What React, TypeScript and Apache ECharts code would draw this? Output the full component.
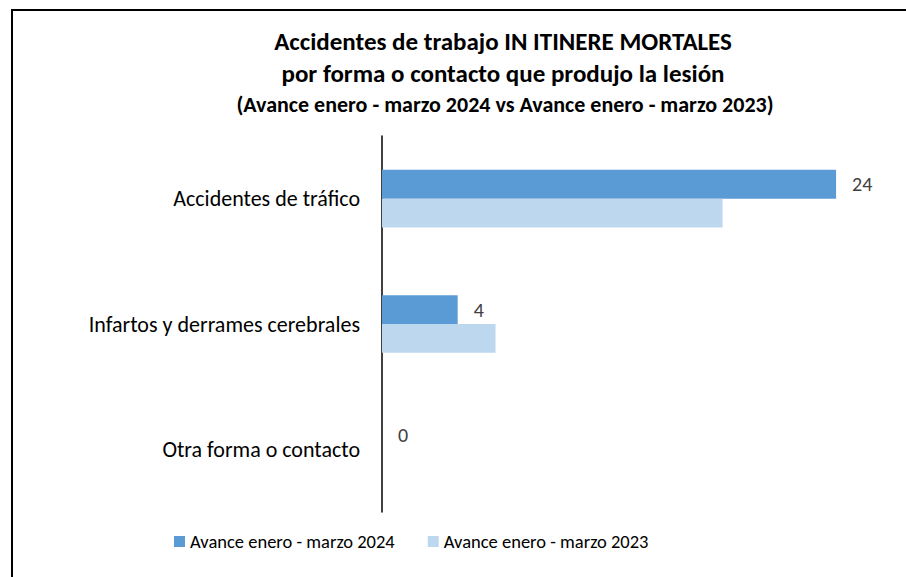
import React, { useEffect, useRef } from "react";
import * as echarts from "echarts";

const categories = [
  "Accidentes de tráfico",
  "Infartos y derrames cerebrales",
  "Otra forma o contacto",
];
const series2024 = [24, 4, 0];
const series2023 = [18, 6, 0];
const seriesNames = ["Avance enero - marzo 2024", "Avance enero - marzo 2023"];
const titleLines = [
  "Accidentes de trabajo IN ITINERE MORTALES",
  "por forma o contacto que produjo la lesión",
  "(Avance enero - marzo 2024 vs Avance enero - marzo 2023)",
];

export default function App() {
  const ref = useRef<HTMLDivElement>(null);
  useEffect(() => {
    document.body.style.margin = "0";
    const chart = echarts.init(ref.current!, null, { renderer: "svg" });
    const font = "Carlito, 'Liberation Sans', sans-serif";
    chart.setOption({
      animation: false,
      backgroundColor: "#ffffff",
      graphic: [
        {
          type: "rect",
          shape: { x: 12, y: 10, width: 1000, height: 700 },
          style: { fill: "none", stroke: "#000", lineWidth: 2 },
          silent: true,
        },
        {
          type: "text",
          x: 503,
          y: 41,
          style: {
            text: titleLines[0],
            font: `bold 25px ${font}`,
            fill: "#000",
            align: "center",
            verticalAlign: "middle",
          },
        },
        {
          type: "text",
          x: 503,
          y: 73,
          style: {
            text: titleLines[1],
            font: `bold 25px ${font}`,
            fill: "#000",
            align: "center",
            verticalAlign: "middle",
          },
        },
        {
          type: "text",
          x: 505,
          y: 104,
          style: {
            text: titleLines[2],
            font: `bold 22px ${font}`,
            fill: "#000",
            align: "center",
            verticalAlign: "middle",
          },
        },
      ],
      legend: {
        bottom: 21,
        left: 169,
        itemWidth: 11,
        itemHeight: 11,
        itemGap: 33,
        icon: "rect",
        textStyle: { fontFamily: font, fontSize: 18.5, color: "#000", padding: [0, 0, 0, 0] },
        data: seriesNames,
      },
      grid: { left: 382, right: 51, top: 136, bottom: 65, containLabel: false },
      xAxis: {
        type: "value",
        min: 0,
        max: 25,
        show: false,
      },
      yAxis: {
        type: "category",
        data: categories,
        inverse: true,
        axisLine: { show: true, lineStyle: { color: "#000", width: 1.5 } },
        axisTick: { show: false },
        axisLabel: { fontFamily: font, fontSize: 22, color: "#000", margin: 22 },
      },
      series: [
        {
          name: seriesNames[0],
          type: "bar",
          data: series2024,
          barGap: "0%",
          barCategoryGap: "54%",
          itemStyle: { color: "#5B9BD5" },
          label: {
            show: true,
            position: "right",
            distance: 16,
            color: "#404040",
            fontFamily: font,
            fontSize: 20,
          },
        },
        {
          name: seriesNames[1],
          type: "bar",
          data: series2023,
          barGap: "0%",
          barCategoryGap: "54%",
          itemStyle: { color: "#BDD7EE" },
        },
      ],
    });
    return () => chart.dispose();
  }, []);
  return <div ref={ref} style={{ width: 906, height: 577 }} />;
}
